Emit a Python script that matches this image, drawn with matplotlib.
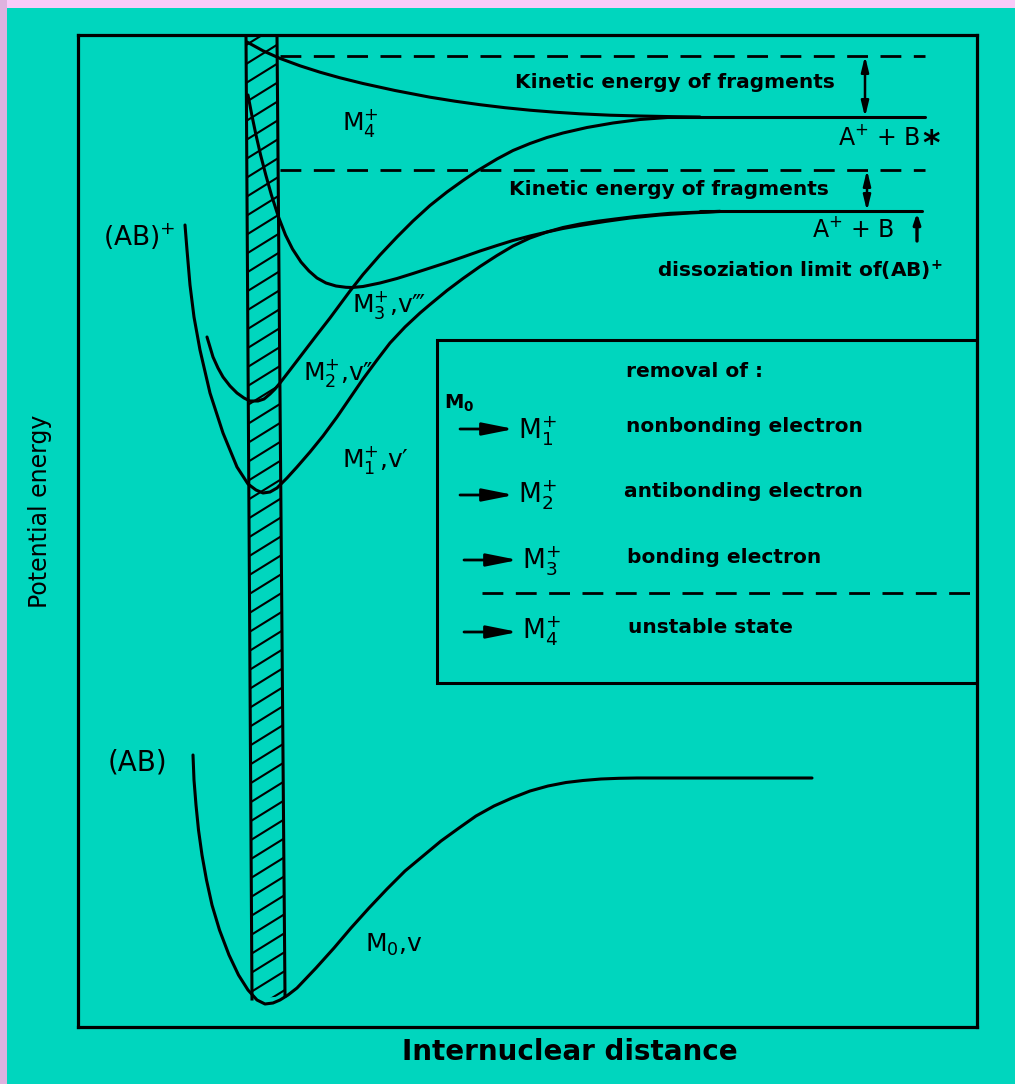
import matplotlib
matplotlib.use("Agg")
import matplotlib.pyplot as plt
from matplotlib.patches import Rectangle, Polygon
import numpy as np

# ---------------- data (drawing units: r = internuclear distance, E = potential energy, axis E grows downward) ---------
# ground state (AB), M0
r_M0 = [193, 194, 196, 198.5, 202, 206.5, 212, 219.5, 229, 238.5, 248, 257, 265, 273, 280, 288, 297, 316, 334, 351, 369,
        387, 405, 423, 441, 459, 476, 494, 512, 530, 548, 566, 583, 601, 619, 637, 700, 812]
E_M0 = [755, 780, 805, 830, 855, 880, 905, 930, 955, 975, 990, 1000, 1004, 1003, 1000, 995, 988, 968, 948, 928, 908,
        889, 871, 856, 841, 828, 816, 806, 798, 791, 786, 782.5, 780.5, 779, 778.3, 778, 778, 778]
# ion (AB)+, M1 (nonbonding electron removed)
r_M1 = [185, 187, 190, 194, 200, 210, 223, 237, 248, 256, 263, 270, 277, 287, 297, 310, 323, 337, 350, 363, 377, 390, 405,
        420, 430, 447, 463, 480, 497, 513, 530, 547, 563, 580, 597, 615, 637, 670, 720]
E_M1 = [225, 250, 285, 317, 350, 393, 433, 467, 484, 490, 493, 492, 488, 478, 467, 452, 436, 417, 398, 379, 360, 343, 327,
        313, 304.5, 290.5, 278.5, 266.5, 255.5, 246, 238, 232, 227.5, 224, 221.3, 219, 216.3, 213.3, 211.3]
# M2 (antibonding electron removed)
r_M2 = [207, 210, 213, 218, 223, 230, 237, 244, 250, 258, 264, 270, 275, 280, 290, 303, 316, 330, 340, 350, 363, 380, 397,
        413, 430, 447, 463, 477, 497, 513, 530, 547, 563, 587, 613, 640, 670]
E_M2 = [337, 347, 357, 368, 377, 386, 393, 398, 401, 401, 399, 394, 389, 383, 370, 353, 336, 318, 304.5, 291, 274.5, 255,
        237, 221, 205.5, 192, 180.5, 171, 159, 150.5, 143.5, 137.5, 133, 127.5, 123, 119.5, 117.3]
# M3 (bonding electron removed)
r_M3 = [248, 251.8, 256, 260.6, 265.8, 271.4, 278.5, 285.5, 292.5, 301, 309, 317, 326, 336, 346, 352, 363, 380, 397, 413,
        430, 447, 463, 480, 497, 513, 530, 547, 563, 580, 605, 630, 660, 690, 720]
E_M3 = [95, 115, 135, 155, 175, 195, 217, 235, 249, 262, 271, 278, 283, 286, 287.3, 287.5, 286.5, 283, 278.5, 273.5,
        268, 262.5, 257, 251, 245.5, 240.5, 236, 232, 228.5, 225.5, 221.5, 218, 215, 213, 211.5]
# M4 (unstable, repulsive state)
r_M4 = [247, 263, 280, 300, 320, 340, 363, 395, 430, 455, 480, 505, 530, 555, 580, 610, 640, 670, 700]
E_M4 = [42, 50.8, 58.4, 65.8, 72.2, 77.8, 83.5, 90.5, 97.2, 101.2, 104.7, 107.7, 110.2, 112.2, 113.8, 115.2, 116, 116.6, 117]
# dissociation limits
r_lim_B = [700, 922]
E_lim_B = [211, 211]          # A+ + B
r_lim_Bstar = [660, 925]
E_lim_Bstar = [117, 117]      # A+ + B*
# upper levels (dashed)
r_dash = [280, 925]
E_dash_upper = [56, 56]
E_dash_lower = [170, 170]
# Franck-Condon band edges
fc_left_r = [246, 252]
fc_right_r = [277, 285]
fc_E = [36, 999]

legend_targets = ["1", "2", "3", "4"]
legend_texts = ["nonbonding electron", "antibonding electron", "bonding electron", "unstable state"]

# ---------------- figure ----------------
W, H = 1015, 1084
TEAL = "#00D6BE"
fig = plt.figure(figsize=(W / 100, H / 100), dpi=100, facecolor=TEAL)
fig.add_artist(Rectangle((0, 1 - 8 / H), 1, 8 / H, transform=fig.transFigure, color="#F8CBF8", lw=0, zorder=0))
fig.add_artist(Rectangle((0, 0), 7 / W, 1, transform=fig.transFigure, color="#DFB2DF", lw=0, zorder=0))

bx0, bx1, by0, by1 = 78, 977, 35, 1027
ax = fig.add_axes([bx0 / W, 1 - by1 / H, (bx1 - bx0) / W, (by1 - by0) / H])
ax.set_xlim(bx0, bx1)
ax.set_ylim(by1, by0)
ax.set_facecolor(TEAL)
ax.set_xticks([])
ax.set_yticks([])
for s in ax.spines.values():
    s.set_linewidth(2.3)
    s.set_color("black")

K = "black"
LW = 2.2

# Franck-Condon hatched band
band = Polygon([(fc_left_r[0], fc_E[0]), (fc_right_r[0], fc_E[0]), (fc_right_r[1], 996), (fc_left_r[1], fc_E[1])],
               closed=True, fill=False, lw=0)
ax.add_patch(band)
for y0 in np.arange(55, 1060, 19):
    ln, = ax.plot([230, 300], [y0, y0 - 70 * 0.62], color=K, lw=1.5)
    ln.set_clip_path(band)
ax.plot(fc_left_r, fc_E, color=K, lw=LW)
ax.plot(fc_right_r, [fc_E[0], 996], color=K, lw=LW)

# curves
for r, E in [(r_M0, E_M0), (r_M1, E_M1), (r_M2, E_M2), (r_M3, E_M3), (r_M4, E_M4),
             (r_lim_B, E_lim_B), (r_lim_Bstar, E_lim_Bstar)]:
    ax.plot(r, E, color=K, lw=LW, solid_capstyle="round", solid_joinstyle="round")

dash = (0, (7.5, 4.5))
ax.plot(r_dash, E_dash_upper, color=K, lw=2.0, linestyle=dash)
ax.plot(r_dash, E_dash_lower, color=K, lw=2.0, linestyle=dash)

# kinetic energy arrows
dbl = dict(arrowstyle="<|-|>,head_length=0.9,head_width=0.22", lw=1.8, color=K, shrinkA=0, shrinkB=0)
ax.annotate("", xy=(865, E_dash_upper[0]), xytext=(865, E_lim_Bstar[0]), arrowprops=dbl)
ax.annotate("", xy=(867, E_dash_lower[0]), xytext=(867, E_lim_B[0]), arrowprops=dbl)
ax.annotate("", xy=(917, 213), xytext=(917, 241),
            arrowprops=dict(arrowstyle="-|>,head_length=0.6,head_width=0.2", lw=2.4, color=K, shrinkA=0, shrinkB=0))

# text labels
BOLD = dict(fontsize=14.5, fontweight="bold", color=K, va="baseline", ha="left")
ax.text(515, 88, "Kinetic energy of fragments", **BOLD)
ax.text(509, 195, "Kinetic energy of fragments", **BOLD)
ax.text(657, 277, r"dissoziation limit of(AB)$^{\mathbf{+}}$", **BOLD)

NORM = dict(color=K, va="baseline", ha="left")
ax.text(838, 145, r"A$^{+}$ + B", fontsize=17, **NORM)
ax.text(922, 154, "*", fontsize=24, fontweight="bold", **NORM)
ax.text(812, 237, r"A$^{+}$ + B", fontsize=17, **NORM)
ax.text(342, 130, r"$\mathregular{M^{+}_{4}}$", fontsize=18, **NORM)
ax.text(352, 312, r"$\mathregular{M^{+}_{3}}$,v‴", fontsize=18, **NORM)
ax.text(303, 380, r"$\mathregular{M^{+}_{2}}$,v″", fontsize=18, **NORM)
ax.text(342, 467, r"$\mathregular{M^{+}_{1}}$,v′", fontsize=18, **NORM)
ax.text(365, 952, r"$\mathregular{M_{0}}$,v", fontsize=18, **NORM)
ax.text(103, 246, r"(AB)$^{+}$", fontsize=19, **NORM)
ax.text(108, 771, "(AB)", fontsize=20, **NORM)

# legend box
ax.add_patch(Rectangle((437, 340), bx1 - 437, 683 - 340, fill=False, lw=LW, ec=K))
ax.plot([482, bx1], [593, 593], color=K, lw=2.0, linestyle=dash)
ax.text(626, 377, "removal of :", **BOLD)
ax.text(444, 409, r"$\mathregular{M_0}$", fontsize=14, fontweight="bold", color=K, va="baseline", ha="left")
arrow_y = [429, 495, 560, 632]
arrow_x0 = [460, 460, 464, 464]
m_base = [438, 503, 568, 638]
txt_x = [626, 624, 627, 628]
txt_base = [432, 497, 563, 633]
for i, (t, lab) in enumerate(zip(legend_targets, legend_texts)):
    ax.annotate("", xy=(arrow_x0[i] + 54, arrow_y[i]), xytext=(arrow_x0[i], arrow_y[i]),
                arrowprops=dict(arrowstyle="-|>,head_length=1.9,head_width=0.38", lw=2.0, color=K,
                                shrinkA=0, shrinkB=0))
    ax.text(arrow_x0[i] + 58, m_base[i], r"$\mathregular{M^{+}_{%s}}$" % t, fontsize=19, **NORM)
    ax.text(txt_x[i], txt_base[i], lab, **BOLD)

# axis titles
ax.set_xlabel("Internuclear distance", fontsize=20, fontweight="bold", color=K)
ax.xaxis.set_label_coords((570 - bx0) / (bx1 - bx0), (by1 - 1052) / (by1 - by0))
ax.xaxis.label.set_va("center")
ax.set_ylabel("Potential energy", fontsize=17, color=K)
ax.yaxis.set_label_coords((40 - bx0) / (bx1 - bx0), (by1 - 511) / (by1 - by0))
ax.yaxis.label.set_va("center")

fig.savefig("out.png", dpi=100, facecolor=TEAL)
